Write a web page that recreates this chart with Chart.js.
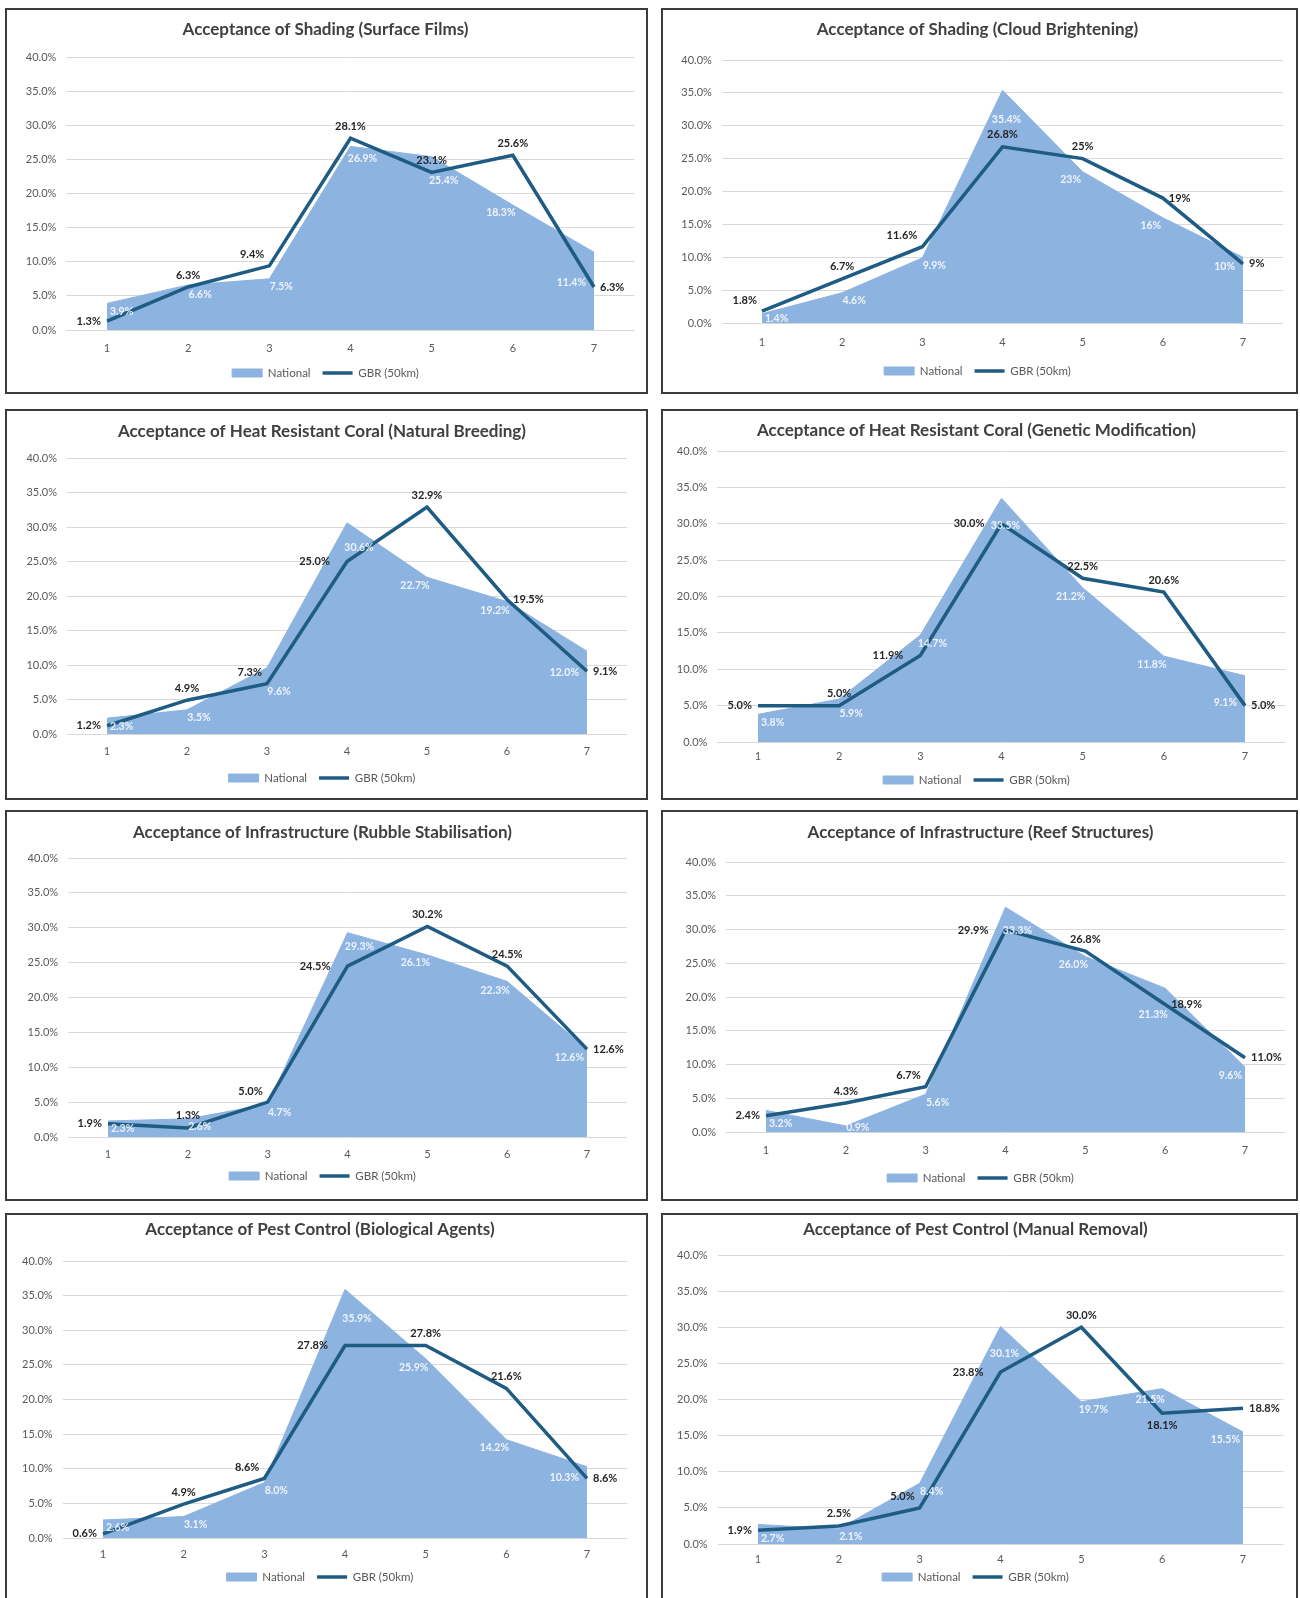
<!DOCTYPE html>
<html>
<head>
<meta charset="utf-8">
<script src="https://cdn.jsdelivr.net/npm/chart.js@4.4.1/dist/chart.umd.min.js"></script>
<style>
    body { margin: 0; background: #fff; width: 1300px; height: 1598px; overflow: hidden; position: relative; }
    .panel { position: absolute; box-sizing: border-box; border: 2px solid #3c3c3c; background: #fff; }
    .panel canvas { position: absolute; left: 0; top: 0; }
</style>
</head>
<body>
<script>
// DATA
const scalePoints = ['1', '2', '3', '4', '5', '6', '7'];
const seriesNames = ['National', 'GBR (50km)'];

const titles = [
    'Acceptance of Shading (Surface Films)',
    'Acceptance of Shading (Cloud Brightening)',
    'Acceptance of Heat Resistant Coral (Natural Breeding)',
    'Acceptance of Heat Resistant Coral (Genetic Modification)',
    'Acceptance of Infrastructure (Rubble Stabilisation)',
    'Acceptance of Infrastructure (Reef Structures)',
    'Acceptance of Pest Control (Biological Agents)',
    'Acceptance of Pest Control (Manual Removal)'
];

const surfaceFilmsNational = [3.9, 6.6, 7.5, 26.9, 25.4, 18.3, 11.4];
const surfaceFilmsGBR = [1.3, 6.3, 9.4, 28.1, 23.1, 25.6, 6.3];

const cloudBrighteningNational = [1.4, 4.6, 9.9, 35.4, 23, 16, 10];
const cloudBrighteningGBR = [1.8, 6.7, 11.6, 26.8, 25, 19, 9];

const naturalBreedingNational = [2.3, 3.5, 9.6, 30.6, 22.7, 19.2, 12.0];
const naturalBreedingGBR = [1.2, 4.9, 7.3, 25.0, 32.9, 19.5, 9.1];

const geneticModNational = [3.8, 5.9, 14.7, 33.5, 21.2, 11.8, 9.1];
const geneticModGBR = [5.0, 5.0, 11.9, 30.0, 22.5, 20.6, 5.0];

const rubbleNational = [2.3, 2.6, 4.7, 29.3, 26.1, 22.3, 12.6];
const rubbleGBR = [1.9, 1.3, 5.0, 24.5, 30.2, 24.5, 12.6];

const reefStructuresNational = [3.2, 0.9, 5.6, 33.3, 26.0, 21.3, 9.6];
const reefStructuresGBR = [2.4, 4.3, 6.7, 29.9, 26.8, 18.9, 11.0];

const biologicalNational = [2.6, 3.1, 8.0, 35.9, 25.9, 14.2, 10.3];
const biologicalGBR = [0.6, 4.9, 8.6, 27.8, 27.8, 21.6, 8.6];

const manualRemovalNational = [2.7, 2.1, 8.4, 30.1, 19.7, 21.5, 15.5];
const manualRemovalGBR = [1.9, 2.5, 5.0, 23.8, 30.0, 18.1, 18.8];

const nationalSeries = [surfaceFilmsNational, cloudBrighteningNational, naturalBreedingNational, geneticModNational,
    rubbleNational, reefStructuresNational, biologicalNational, manualRemovalNational];
const gbrSeries = [surfaceFilmsGBR, cloudBrighteningGBR, naturalBreedingGBR, geneticModGBR,
    rubbleGBR, reefStructuresGBR, biologicalGBR, manualRemovalGBR];

// chart 2 uses "general" number format in its labels
const generalFormat = [false, true, false, false, false, false, false, false];

// LAYOUT (panel boxes and where the plot sits inside each one)
const panels = [
    { x: 5, y: 8, w: 643, h: 386 },   { x: 661, y: 8, w: 637, h: 386 },
    { x: 5, y: 409, w: 643, h: 391 }, { x: 661, y: 409, w: 637, h: 391 },
    { x: 5, y: 810, w: 643, h: 391 }, { x: 661, y: 810, w: 637, h: 391 },
    { x: 5, y: 1213, w: 643, h: 392 }, { x: 661, y: 1213, w: 637, h: 392 }
];
// title centre, 40% line, 0% line, x of point 1, x of point 7, x-label centre, legend centre
const frames = [
    { title: 22, top: 49, zero: 322, x1: 102, x7: 589, xlab: 339, legend: 365 },
    { title: 22, top: 52, zero: 315, x1: 101, x7: 582, xlab: 333, legend: 363 },
    { title: 23, top: 49, zero: 325, x1: 102, x7: 582, xlab: 341, legend: 369 },
    { title: 22, top: 42, zero: 333, x1: 97, x7: 584, xlab: 346, legend: 371 },
    { title: 23, top: 48, zero: 327, x1: 103, x7: 582, xlab: 343, legend: 366 },
    { title: 23, top: 52, zero: 322, x1: 105, x7: 584, xlab: 339, legend: 368 },
    { title: 17, top: 48, zero: 325, x1: 98, x7: 582, xlab: 340, legend: 364 },
    { title: 17, top: 42, zero: 331, x1: 97, x7: 582, xlab: 345, legend: 364 }
];
// where the GBR labels sit: L left, T top, Q top-left, R right, B below
const gbrLabelPos = ['LTQTTTR', 'QTQTTRR', 'LTQLTRR', 'LTLLTTR', 'LTQLTTR', 'LTQLTRR', 'LTQLTTR', 'LTQLTBR'];

const areaColor = '#8db3e0';
const lineColor = '#1f5c84';
const fontFamily = 'Lato, "Noto Sans", sans-serif';
const legendFont = 11.5;
const legendPad = 12;

// y pixel of a dataset's polyline at pixel x
function lineYAt(pts, x) {
    if (x <= pts[0].x) return pts[0].y;
    for (let k = 0; k < pts.length - 1; k++) {
        if (x <= pts[k + 1].x) {
            const t = (x - pts[k].x) / (pts[k + 1].x - pts[k].x);
            return pts[k].y + t * (pts[k + 1].y - pts[k].y);
        }
    }
    return pts[pts.length - 1].y;
}

// min / max y of a polyline between two x values
function lineRange(pts, x0, x1) {
    const ys = [lineYAt(pts, x0), lineYAt(pts, x1)];
    pts.forEach(p => { if (p.x > x0 && p.x < x1) ys.push(p.y); });
    return [Math.min(...ys), Math.max(...ys)];
}

// Draws the value labels next to each point
const pointLabels = {
    id: 'pointLabels',
    afterDatasetsDraw(chart, args, opts) {
        const ctx = chart.ctx;
        const fmt = v => opts.general ? v + '%' : v.toFixed(1) + '%';
        const area = chart.chartArea;
        ctx.save();
        ctx.textBaseline = 'middle';

        const natPts = chart.getDatasetMeta(0).data;
        const gbrPts = chart.getDatasetMeta(1).data;

        // National labels, white, kept inside the filled area
        ctx.font = 'bold 10.5px ' + fontFamily;
        const natData = chart.data.datasets[0].data;
        const last = natData.length - 1;
        natPts.forEach((pt, i) => {
            const text = fmt(natData[i]);
            const w = ctx.measureText(text).width;
            const h = 10;
            let dxs = [12, 4, -4, -12];
            if (i === 0) dxs = [w / 2 + 3, w / 2 + 8];
            if (i === last) dxs = [-(w / 2 + 3), -(w / 2 + 8)];
            let best = null;
            for (const avoid of [true, false]) {
                const maxDy = avoid ? 30 : 60;
                for (let dy = 8; dy <= maxDy && !best; dy++) {
                    for (const dx of dxs) {
                        const cx = pt.x + dx, cy = pt.y + dy;
                        const l = cx - w / 2, r = cx + w / 2, t = cy - h / 2, b = cy + h / 2;
                        if (l < natPts[0].x || r > natPts[last].x || b > area.bottom) continue;
                        const nr = lineRange(natPts, l, r);
                        if (t < nr[1] + 1) continue;
                        if (avoid) {
                            const gr = lineRange(gbrPts, l, r);
                            if (!(gr[0] > b + 3 || gr[1] < t - 3)) continue;
                        }
                        best = { x: cx, y: cy };
                        break;
                    }
                }
                if (best) break;
            }
            if (!best) best = { x: pt.x + dxs[0], y: area.bottom - 4 };
            ctx.fillStyle = 'rgba(255,255,255,0.85)';
            ctx.textAlign = 'center';
            ctx.fillText(text, best.x, best.y);
        });

        // GBR labels, dark
        ctx.font = 'bold 11px ' + fontFamily;
        gbrPts.forEach((pt, i) => {
            const text = fmt(chart.data.datasets[1].data[i]);
            const pos = opts.pos[i];
            ctx.fillStyle = '#262626';
            if (pos === 'L') {
                ctx.textAlign = 'right';
                ctx.fillText(text, pt.x - (i === 0 ? 6 : 17), pt.y);
            } else if (pos === 'Q') {
                ctx.textAlign = 'right';
                ctx.fillText(text, pt.x - 5, pt.y - 11);
            } else if (pos === 'R') {
                ctx.textAlign = 'left';
                ctx.fillText(text, pt.x + 6, pt.y);
            } else if (pos === 'B') {
                ctx.textAlign = 'center';
                ctx.fillText(text, pt.x, pt.y + 12);
            } else {
                ctx.textAlign = 'center';
                ctx.fillText(text, pt.x, pt.y - 12);
            }
        });
        ctx.restore();
    }
};

// Moves the legend so its row is centred where the reference has it
const legendPlace = {
    id: 'legendPlace',
    afterLayout(chart, args, opts) {
        const lg = chart.legend;
        if (!lg) return;
        lg.top = opts.centre - legendPad - legendFont / 2;
        lg.height = 40;
        lg.bottom = lg.top + 40;
    }
};

function makeChart(idx) {
    const p = panels[idx];
    const f = frames[idx];
    const div = document.createElement('div');
    div.className = 'panel';
    div.style.left = p.x + 'px';
    div.style.top = p.y + 'px';
    div.style.width = p.w + 'px';
    div.style.height = p.h + 'px';
    const canvas = document.createElement('canvas');
    const cw = p.w - 4, ch = p.h - 4;
    canvas.width = cw;
    canvas.height = ch;
    div.appendChild(canvas);
    document.body.appendChild(div);

    // work out paddings so the plot lands where the reference has it
    const band = (f.x7 - f.x1) / 6;
    const areaLeft = (f.x1 - 2) - band / 2;
    const areaRight = (f.x7 - 2) + band / 2;
    const yWidth = 50;
    const titleSize = 17;
    const titleTop = (f.title - 2) - titleSize * 0.6;
    const titleBottom = (f.top - 2) - titleTop - titleSize * 1.2;
    const xHeight = 30;
    const legendHeight = 20;
    const padBottom = ch - (f.zero - 2) - xHeight - legendHeight;

    new Chart(canvas.getContext('2d'), {
        type: 'line',
        data: {
            labels: scalePoints,
            datasets: [{
                label: seriesNames[0],
                data: nationalSeries[idx],
                fill: 'origin',
                backgroundColor: areaColor,
                borderColor: areaColor,
                borderWidth: 1,
                pointRadius: 0,
                tension: 0,
                order: 1
            }, {
                label: seriesNames[1],
                data: gbrSeries[idx],
                fill: false,
                borderColor: lineColor,
                borderWidth: 3.5,
                pointRadius: 0,
                tension: 0,
                order: 0
            }]
        },
        options: {
            responsive: false,
            animation: false,
            layout: {
                padding: { left: areaLeft - yWidth, right: cw - areaRight, top: 0, bottom: padBottom }
            },
            scales: {
                x: {
                    offset: true,
                    grid: { display: false, drawTicks: false },
                    border: { display: false },
                    ticks: { color: '#595959', font: { family: fontFamily, size: 11 }, padding: f.xlab - f.zero - 5.5 },
                    afterFit: s => { s.height = xHeight; }
                },
                y: {
                    min: 0,
                    max: 40,
                    grid: { color: '#d9d9d9', drawTicks: false },
                    border: { display: false },
                    ticks: {
                        stepSize: 5,
                        padding: 10,
                        color: '#595959',
                        font: { family: fontFamily, size: 11 },
                        callback: v => v.toFixed(1) + '%'
                    },
                    afterFit: s => { s.width = yWidth; }
                }
            },
            plugins: {
                title: {
                    display: true,
                    text: titles[idx],
                    color: '#404040',
                    font: { family: fontFamily, size: titleSize, weight: 'bold' },
                    padding: { top: titleTop, bottom: titleBottom }
                },
                legend: {
                    position: 'bottom',
                    maxHeight: legendHeight,
                    labels: {
                        color: '#595959',
                        font: { family: fontFamily, size: legendFont },
                        usePointStyle: true,
                        pointStyleWidth: 30,
                        boxHeight: 8,
                        padding: legendPad,
                        generateLabels: () => [
                            { text: seriesNames[0], fillStyle: areaColor, strokeStyle: areaColor, lineWidth: 1, pointStyle: 'rect', datasetIndex: 0, hidden: false, fontColor: '#595959' },
                            { text: seriesNames[1], fillStyle: lineColor, strokeStyle: lineColor, lineWidth: 3.5, pointStyle: 'line', datasetIndex: 1, hidden: false, fontColor: '#595959' }
                        ]
                    }
                },
                tooltip: { enabled: false },
                pointLabels: { pos: gbrLabelPos[idx], general: generalFormat[idx] },
                legendPlace: { centre: f.legend - 2 }
            }
        },
        plugins: [pointLabels, legendPlace]
    });
}

titles.forEach((t, i) => makeChart(i));
</script>
</body>
</html>
